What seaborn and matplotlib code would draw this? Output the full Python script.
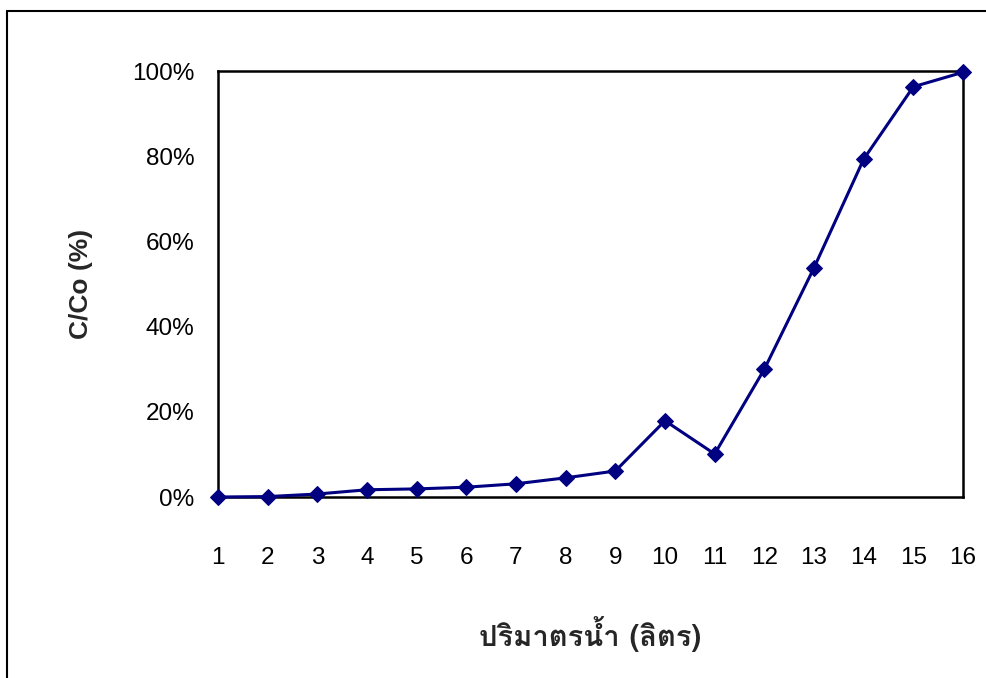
import numpy as np
import pandas as pd
import matplotlib
matplotlib.use("Agg")
import matplotlib.pyplot as plt
from matplotlib.lines import Line2D
from matplotlib.ticker import PercentFormatter
from matplotlib import font_manager
from matplotlib.ft2font import FT2Font
import seaborn as sns

# Water volume passed through the column (litres) and breakthrough ratio C/Co (%)
volume_l = [1, 2, 3, 4, 5, 6, 7, 8, 9, 10, 11, 12, 13, 14, 15, 16]
c_over_co = [0.0, 0.1, 0.7, 1.7, 1.9, 2.3, 3.1, 4.5, 6.1, 17.9, 10.1,
             30.0, 53.8, 79.3, 96.3, 99.7]
y_ticks = [0, 20, 40, 60, 80, 100]
x_label = "ปริมาตรน้ำ (ลิตร)"
y_label = "C/Co (%)"


def find_thai_family():
    """Return an installed family that has Thai glyphs, preferring Loma."""
    names = {f.name for f in font_manager.fontManager.ttflist}
    if "Loma" in names:
        return "Loma"
    for f in font_manager.fontManager.ttflist:
        try:
            cmap = FT2Font(f.fname).get_charmap()
        except Exception:
            continue
        if 0x0E1B in cmap and 0x0E33 in cmap:
            return f.name
    return None


sns.set_style("white")
plt.rcParams["font.family"] = ["Liberation Sans", "DejaVu Sans"]
thai = find_thai_family()

df = pd.DataFrame({"volume": volume_l, "ratio": c_over_co})

fig = plt.figure(figsize=(9.86, 6.78), dpi=100)
ax = fig.add_axes([218 / 986, 1 - 497 / 678, (963 - 218) / 986, (497 - 71) / 678])

sns.lineplot(data=df, x="volume", y="ratio", ax=ax, color="#000080",
             linewidth=2.2, marker="D", markersize=8.5,
             markeredgecolor="#000080", markerfacecolor="#000080",
             clip_on=False, zorder=5)

ax.set_xlim(1, 16)
ax.set_ylim(0, 100)
ax.set_xticks(volume_l)
ax.set_yticks(y_ticks)
ax.yaxis.set_major_formatter(PercentFormatter(100, decimals=0))

for side in ["left", "right", "top", "bottom"]:
    ax.spines[side].set_visible(True)
    ax.spines[side].set_color("black")
    ax.spines[side].set_linewidth(1.8)

ax.tick_params(axis="both", direction="out", length=7, width=1,
               color="#404040", labelsize=17.5, labelcolor="black")
ax.tick_params(axis="y", pad=10)
ax.tick_params(axis="x", pad=29)

ax.set_ylabel(y_label, fontsize=19, fontweight="bold", labelpad=28)
xl_family = [thai, "DejaVu Sans"] if thai else ["DejaVu Sans"]
ax.set_xlabel(x_label, fontsize=21, fontweight="bold", labelpad=34,
              family=xl_family)

# Frame of the chart area: left and top edges
fig.add_artist(Line2D([7 / 986, 7 / 986], [0, 1 - 11 / 678],
                      transform=fig.transFigure, color="black", linewidth=1.5))
fig.add_artist(Line2D([7 / 986, 1], [1 - 11 / 678, 1 - 11 / 678],
                      transform=fig.transFigure, color="black", linewidth=1.5))

fig.savefig("out.png", dpi=100, facecolor="white")
